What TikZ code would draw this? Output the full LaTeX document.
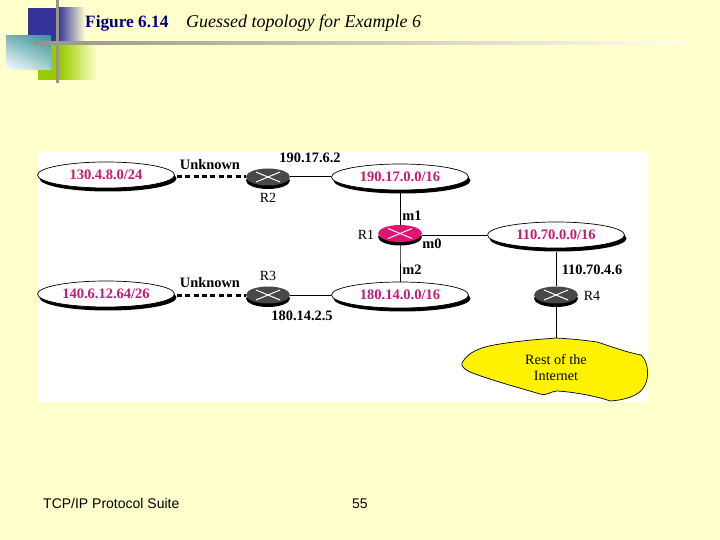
\documentclass[tikz,border=0pt]{standalone}
\usepackage{fontspec}
\setmainfont{Liberation Serif}
\newfontfamily\arialf{Liberation Sans}
\usetikzlibrary{shapes.geometric,shadows,shadings}
\definecolor{pagebg}{RGB}{255,255,204}
\definecolor{netpink}{RGB}{190,30,120}
\definecolor{rpink}{RGB}{225,20,115}
\definecolor{rdark}{RGB}{72,72,72}
\definecolor{titleblue}{RGB}{0,0,128}
\definecolor{barblue}{RGB}{51,51,153}
\definecolor{barteal}{RGB}{60,150,155}
\definecolor{bargreen}{RGB}{153,204,0}
\definecolor{bargray}{RGB}{150,150,130}
\definecolor{lineend}{RGB}{255,255,235}
\tikzset{
 netw/.style={ellipse,draw=black,fill=white,line width=0.7pt,minimum width=137pt,minimum height=26pt,inner sep=0pt,
   text=netpink,font=\bfseries\fontsize{14.5}{16}\selectfont,
   drop shadow={shadow xshift=2pt,shadow yshift=-3.5pt,opacity=1,fill=black}},
 routerbase/.style={ellipse,minimum width=44pt,minimum height=17pt,inner sep=0pt,
   drop shadow={shadow xshift=0pt,shadow yshift=-3.5pt,opacity=1,fill=black}},
 grayrouter/.style={routerbase,fill=rdark},
 pinkrouter/.style={routerbase,fill=rpink},
 link/.style={draw=black,line width=1pt},
 unk/.style={draw=black,line width=3pt,dash pattern=on 5pt off 3.4pt},
 lab/.style={font=\fontsize{14}{16}\selectfont,inner sep=0pt,text=black},
 blab/.style={font=\bfseries\fontsize{14.4}{16}\selectfont,inner sep=0pt,text=black},
 cross/.style={draw=white,line width=1pt},
}
\newcommand{\rcross}[1]{\draw[cross] ([shift={(-12,-5)}]#1.center) -- ([shift={(12,5)}]#1.center);
 \draw[cross] ([shift={(-12,5)}]#1.center) -- ([shift={(12,-5)}]#1.center);}
\begin{document}
\begin{tikzpicture}[x=1pt,y=-1pt]
\useasboundingbox (0,0) rectangle (720,540);
\fill[pagebg] (0,0) rectangle (720,540);
% decoration
\fill[barblue] (28,8) rectangle (58,42);
\shade[left color=barblue,right color=pagebg] (58,8) rectangle (85,42);
\fill[bargreen] (38,44) rectangle (60,80);
\shade[left color=bargreen,right color=pagebg] (60,44) rectangle (97,80);
\shade[lower left=white,upper right=barteal,lower right=barteal!45!white,upper left=barteal!70!white] (6,36) rectangle (51,70);
\fill[bargray] (56,0) rectangle (59,83);
\shade[left color=bargray,right color=lineend] (34,41.5) rectangle (685,44.5);
% title
\node[anchor=base west,inner sep=0pt,text=titleblue,font=\bfseries\fontsize{17.3}{19}\selectfont] (fig) at (85,28) {Figure 6.14};
\node[anchor=base west,inner sep=0pt,text=black,font=\itshape\fontsize{18}{20}\selectfont] (cap) at (186,28) {Guessed topology for Example 6};
% panel
\fill[white] (37,152) rectangle (648,402);
% cloud
\draw[draw=black,fill=yellow,line width=0.7pt] (462,363) .. controls (468,352) and (480,347) .. (500,344)
 .. controls (525,340) and (545,339) .. (556,338)
 .. controls (575,339) and (590,341) .. (597,342)
 .. controls (610,346) and (625,352) .. (641,355)
 .. controls (649,362) and (649,378) .. (645,385)
 .. controls (640,396) and (625,400) .. (610,401)
 .. controls (600,397) and (575,392) .. (557,391)
 .. controls (548,392) and (548,396) .. (540,394)
 .. controls (520,388) and (490,380) .. (470,372)
 .. controls (464,369) and (461,366) .. (462,363) -- cycle;
\coordinate (cloudtop) at (556,338);
\node[lab,align=center,font=\fontsize{14.2}{16}\selectfont] (cloudtxt) at (556,368) {Rest of the\\Internet};
% networks
\node[netw] (n1) at (106,175) {130.4.8.0/24};
\node[netw] (n2) at (400,177) {190.17.0.0/16};
\node[netw] (n3) at (106,294) {140.6.12.64/26};
\node[netw] (n4) at (400,295) {180.14.0.0/16};
\node[netw] (n5) at (556,235) {110.70.0.0/16};
% routers
\node[grayrouter] (r2) at (268,177) {};
\node[grayrouter] (r3) at (268,295) {};
\node[pinkrouter] (r1) at (400,233.5) {};
\node[grayrouter] (r4) at (556,295) {};
\rcross{r1}\rcross{r2}\rcross{r3}\rcross{r4}
% links
\draw[unk] (r2.west -| n1.east) ++(2,0) -- (r2.west);
\draw[unk] (r3.west -| n3.east) ++(2,0) -- (r3.west);
\draw[link] (r2) -- (n2);
\draw[link] (r3) -- (n4);
\draw[link] (r1.north) -- (n2.south);
\draw[link] (r1.south) -- ++(0,3.5) -- (n4.north);
\draw[link] (n5.west -| r1.east) -- (n5.west);
\draw[link] (n5.south) ++(0,3.5) -- (r4.north);
\draw[link] (r4.south) ++(0,3.5) -- (cloudtop);
% labels
\node[blab] (u1) at (210,165) {Unknown};
\node[blab] (u2) at (210,283) {Unknown};
\node[blab] (a1) at (310,158) {190.17.6.2};
\node[blab] (a2) at (302,316) {180.14.2.5};
\node[blab] (a3) at (592,270) {110.70.4.6};
\node[lab] (l2) at (268,198) {R2};
\node[lab] (l3) at (268,276) {R3};
\node[lab] (l1) at (366,235) {R1};
\node[lab] (l4) at (592,296) {R4};
\node[blab] (m1) at (412,216) {m1};
\node[blab] (m0) at (432,244) {m0};
\node[blab] (m2) at (412,270) {m2};
% footer
\node[anchor=base west,inner sep=0pt,font=\arialf\fontsize{14}{16}\selectfont,text=black] (ft) at (43,508) {TCP/IP Protocol Suite};
\node[anchor=base west,inner sep=0pt,font=\arialf\fontsize{14}{16}\selectfont,text=black] (pg) at (352,508) {55};
\end{tikzpicture}
\end{document}
